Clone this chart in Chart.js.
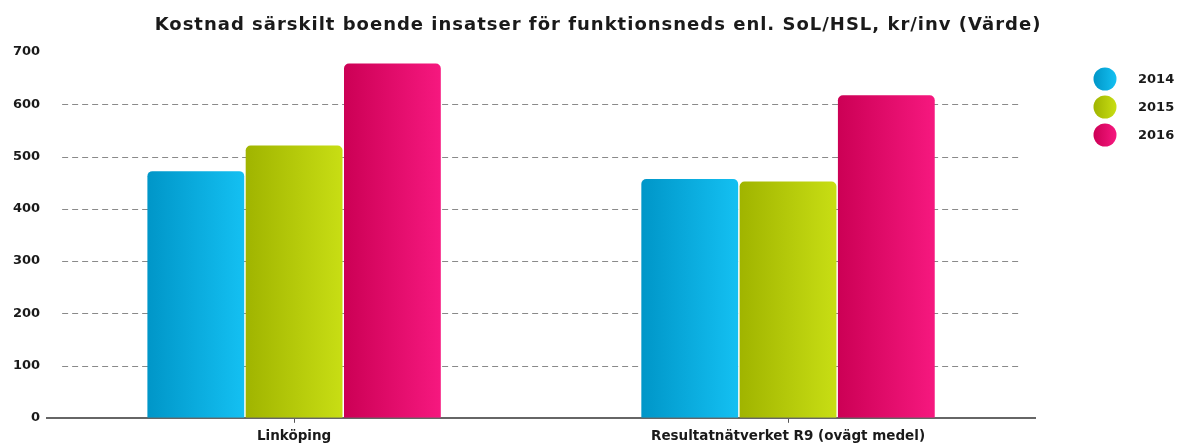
<!DOCTYPE html>
<html>
<head>
<meta charset="utf-8">
<script src="https://cdn.jsdelivr.net/npm/chart.js@4/dist/chart.umd.min.js"></script>
<style>
  html, body { margin: 0; padding: 0; background: #fff; }
  #wrap { width: 1180px; height: 443px; }
</style>
</head>
<body>
<div id="wrap"><canvas id="chart"></canvas></div>
<script>
const chartTitle = 'Kostnad särskilt boende insatser för funktionsneds enl. SoL/HSL, kr/inv (Värde)';
const categories = ['Linköping', 'Resultatnätverket R9 (ovägt medel)'];
const years = ['2014', '2015', '2016'];
const values2014 = [472, 457];
const values2015 = [521, 452];
const values2016 = [678, 617];
const yTicks = [0, 100, 200, 300, 400, 500, 600, 700];

// dark -> light, left to right
const gradientStops = [
    ['#0096c8', '#14c0f2'],
    ['#a0b400', '#c8de14'],
    ['#cc0055', '#f6187f']
];

const FONT = 'DejaVu Sans';

function horizontalGradient(ctx, x0, x1, stops) {
    const g = ctx.createLinearGradient(x0, 0, x1, 0);
    g.addColorStop(0, stops[0]);
    g.addColorStop(1, stops[1]);
    return g;
}

// paint each bar with its own left-to-right gradient
// (options objects are shared between bars, so give each one a copy)
const barGradients = {
    id: 'barGradients',
    beforeDatasetsDraw(chart) {
        const ctx = chart.ctx;
        chart.data.datasets.forEach((ds, i) => {
            const meta = chart.getDatasetMeta(i);
            meta.data.forEach(bar => {
                const half = bar.width / 2;
                bar.options = Object.assign({}, bar.options, {
                    backgroundColor: horizontalGradient(ctx, bar.x - half, bar.x + half, gradientStops[i])
                });
            });
        });
    }
};

// dashed grid lines, inset from the plot edges
const dashedGrid = {
    id: 'dashedGrid',
    beforeDatasetsDraw(chart) {
        const ctx = chart.ctx;
        const y = chart.scales.y;
        const area = chart.chartArea;
        ctx.save();
        ctx.strokeStyle = '#8a8a8a';
        ctx.lineWidth = 1;
        ctx.setLineDash([6, 4]);
        yTicks.forEach(v => {
            if (v === 0 || v === 700) return;
            const py = Math.round(y.getPixelForValue(v)) + 0.5;
            ctx.beginPath();
            ctx.moveTo(area.left + 15, py);
            ctx.lineTo(area.right - 14, py);
            ctx.stroke();
        });
        ctx.restore();
    }
};

// title and circle legend
const decorations = {
    id: 'decorations',
    afterDraw(chart) {
        const ctx = chart.ctx;
        ctx.save();
        ctx.fillStyle = '#1a1a1a';
        ctx.font = 'bold 18px "' + FONT + '"';
        ctx.letterSpacing = '1px';
        ctx.textAlign = 'center';
        ctx.textBaseline = 'middle';
        ctx.fillText(chartTitle, 598, 25);
        ctx.letterSpacing = '0px';

        ctx.font = 'bold 13px "' + FONT + '"';
        ctx.textAlign = 'left';
        chart.data.datasets.forEach((ds, i) => {
            const cy = 79 + i * 28;
            const cx = 1105;
            ctx.beginPath();
            ctx.arc(cx, cy, 11.5, 0, Math.PI * 2);
            ctx.fillStyle = horizontalGradient(ctx, cx - 11.5, cx + 11.5, gradientStops[i]);
            ctx.fill();
            ctx.fillStyle = '#1a1a1a';
            ctx.fillText(ds.label, 1138, cy + 1);
        });
        ctx.restore();
    }
};

const seriesValues = [values2014, values2015, values2016];

new Chart(document.getElementById('chart'), {
    type: 'bar',
    data: {
        labels: categories,
        datasets: years.map((year, i) => ({
            label: year,
            data: seriesValues[i],
            backgroundColor: gradientStops[i][1],
            borderRadius: { topLeft: 5, topRight: 5 },
            borderSkipped: 'start',
            categoryPercentage: 0.597,
            barPercentage: 0.985
        }))
    },
    options: {
        responsive: true,
        maintainAspectRatio: false,
        animation: false,
        layout: {
            padding: { top: 52, right: 145, left: 6, bottom: 0 }
        },
        scales: {
            y: {
                min: 0,
                max: 700,
                afterBuildTicks(axis) {
                    axis.ticks = yTicks.map(v => ({ value: v }));
                },
                grid: { display: false, drawTicks: false },
                border: { display: false },
                ticks: {
                    color: '#1a1a1a',
                    padding: 7,
                    font: { family: FONT, size: 13, weight: 'bold' }
                }
            },
            x: {
                afterFit(scale) {
                    scale.height -= 8;
                },
                grid: {
                    display: true,
                    drawOnChartArea: false,
                    offset: false,
                    tickLength: 5,
                    color: '#555'
                },
                border: { display: true, color: '#666', width: 2 },
                ticks: {
                    color: '#1a1a1a',
                    padding: 6,
                    font: { family: FONT, size: 13.5, weight: 'bold' }
                }
            }
        },
        plugins: {
            legend: { display: false },
            title: { display: false },
            tooltip: { enabled: false }
        }
    },
    plugins: [barGradients, dashedGrid, decorations]
});
</script>
</body>
</html>
